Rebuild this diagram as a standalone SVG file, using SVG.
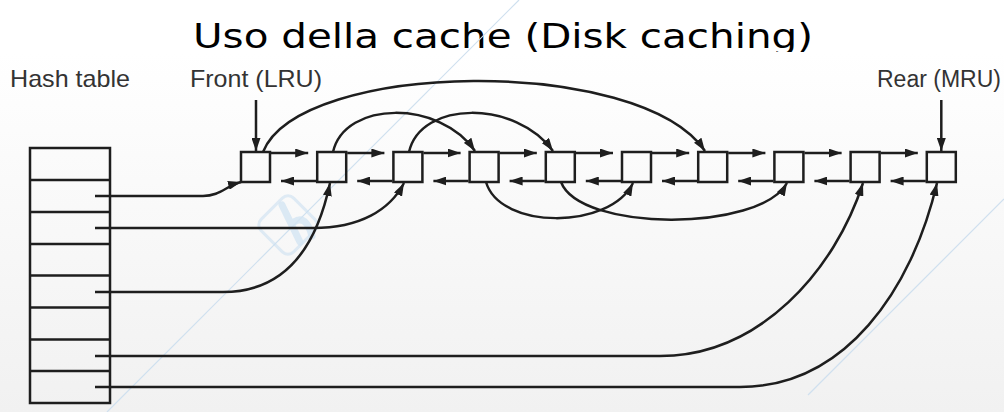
<svg xmlns="http://www.w3.org/2000/svg" width="1004" height="412" viewBox="0 0 1004 412">
  <defs>
    <linearGradient id="bg" x1="0" y1="0" x2="0" y2="1">
      <stop offset="0" stop-color="#ffffff"/>
      <stop offset="1" stop-color="#f1f1f1"/>
    </linearGradient>
    <marker id="ah" viewBox="0 0 13 9" refX="13" refY="4.5" markerWidth="13" markerHeight="9" markerUnits="userSpaceOnUse" orient="auto">
      <path d="M0,0 L13,4.5 L0,9 z" fill="#1e1e1e"/>
    </marker>
    <style>
      .lbl { font-family: "Liberation Sans", Arial, sans-serif; font-size: 24px; fill: #333333; }
      .title { font-family: "DejaVu Sans", "Noto Sans", sans-serif; font-size: 33px; fill: #000000; }
      .box { fill: none; stroke: #1e1e1e; stroke-width: 2.5; }
      .cell { stroke: #1e1e1e; stroke-width: 2.5; }
      .con { fill: none; stroke: #1e1e1e; stroke-width: 2.5; marker-end: url(#ah); }
      .deco { stroke: #cfe0ef; stroke-width: 1.2; fill: none; }
    </style>
  </defs>

  <rect x="0" y="0" width="1004" height="412" fill="#ffffff"/>
  <text class="title" x="193" y="48" textLength="620" lengthAdjust="spacingAndGlyphs">Uso della cache (Disk caching)</text>
  <rect x="0" y="52" width="1004" height="360" fill="url(#bg)"/>

  <g id="decoration">
    <line class="deco" x1="107" y1="412" x2="519" y2="0"/>
    <line class="deco" x1="808" y1="395" x2="1004" y2="199"/>
    <g transform="translate(288,225) rotate(45)" opacity="0.55">
      <rect x="-23" y="-23" width="46" height="46" rx="8" fill="none" stroke="#c9dff0" stroke-width="3"/>
    </g>
    <path d="M282,205 L300,242 M294,222 Q306,214 312,236" stroke="#d3e5f3" stroke-width="7" fill="none" stroke-linecap="round" opacity="0.8"/>
  </g>

  <text class="lbl" x="10" y="87" textLength="120" lengthAdjust="spacingAndGlyphs">Hash table</text>
  <text class="lbl" x="190" y="87" textLength="132" lengthAdjust="spacingAndGlyphs">Front (LRU)</text>
  <text class="lbl" x="877" y="87" style="font-size:23px">Rear (MRU)</text>

  <g id="hash-table">
    <rect class="box" x="30" y="148" width="80" height="255"/>
    <line class="cell" x1="30" y1="180" x2="110" y2="180"/>
    <line class="cell" x1="30" y1="212" x2="110" y2="212"/>
    <line class="cell" x1="30" y1="244" x2="110" y2="244"/>
    <line class="cell" x1="30" y1="275.5" x2="110" y2="275.5"/>
    <line class="cell" x1="30" y1="307.5" x2="110" y2="307.5"/>
    <line class="cell" x1="30" y1="339.5" x2="110" y2="339.5"/>
    <line class="cell" x1="30" y1="371" x2="110" y2="371"/>
  </g>

  <g id="node1"><rect class="box" x="241" y="152" width="29" height="30"/></g>
  <g id="node2"><rect class="box" x="317.2" y="152" width="29" height="30"/></g>
  <g id="node3"><rect class="box" x="393.4" y="152" width="29" height="30"/></g>
  <g id="node4"><rect class="box" x="469.6" y="152" width="29" height="30"/></g>
  <g id="node5"><rect class="box" x="545.8" y="152" width="29" height="30"/></g>
  <g id="node6"><rect class="box" x="622" y="152" width="29" height="30"/></g>
  <g id="node7"><rect class="box" x="698.2" y="152" width="29" height="30"/></g>
  <g id="node8"><rect class="box" x="774.4" y="152" width="29" height="30"/></g>
  <g id="node9"><rect class="box" x="850.6" y="152" width="29" height="30"/></g>
  <g id="node10"><rect class="box" x="926.8" y="152" width="29" height="30"/></g>

  <g id="connectors">
    <path class="con" d="M256,100 L256,151"/>
    <path class="con" d="M941.3,100 L941.3,151"/>

    <path class="con" d="M271,153 L308.2,153"/>
    <path class="con" d="M347.2,153 L384.4,153"/>
    <path class="con" d="M423.4,153 L460.6,153"/>
    <path class="con" d="M499.6,153 L536.8,153"/>
    <path class="con" d="M575.8,153 L613,153"/>
    <path class="con" d="M652,153 L689.2,153"/>
    <path class="con" d="M728.2,153 L765.4,153"/>
    <path class="con" d="M804.4,153 L841.6,153"/>
    <path class="con" d="M880.6,153 L917.8,153"/>

    <path class="con" d="M316.2,181 L281,181"/>
    <path class="con" d="M392.4,181 L357.2,181"/>
    <path class="con" d="M468.6,181 L433.4,181"/>
    <path class="con" d="M544.8,181 L509.6,181"/>
    <path class="con" d="M621,181 L585.8,181"/>
    <path class="con" d="M697.2,181 L662,181"/>
    <path class="con" d="M773.4,181 L738.2,181"/>
    <path class="con" d="M849.6,181 L814.4,181"/>
    <path class="con" d="M925.8,181 L890.6,181"/>

    <path class="con" d="M263,152 C300,60 640,55 705,151"/>
    <path class="con" d="M333,152 C345,100 440,100 475,151"/>
    <path class="con" d="M409,152 C421,100 516,100 553,151"/>

    <path class="con" d="M486,182 C500,230 610,230 633,183"/>
    <path class="con" d="M561,182 C580,232 760,232 787,183"/>

    <path class="con" d="M95,196 L203,196 C220,196 226,186 241,182"/>
    <path class="con" d="M95,228 L313,228 C360,228 390,210 404,183"/>
    <path class="con" d="M95,292 L223,292 C290,292 318,240 330,183"/>
    <path class="con" d="M95,356 L660,356 C760,356 835,270 863,183"/>
    <path class="con" d="M95,387 L740,387 C845,387 912,290 937,183"/>
  </g>
</svg>
